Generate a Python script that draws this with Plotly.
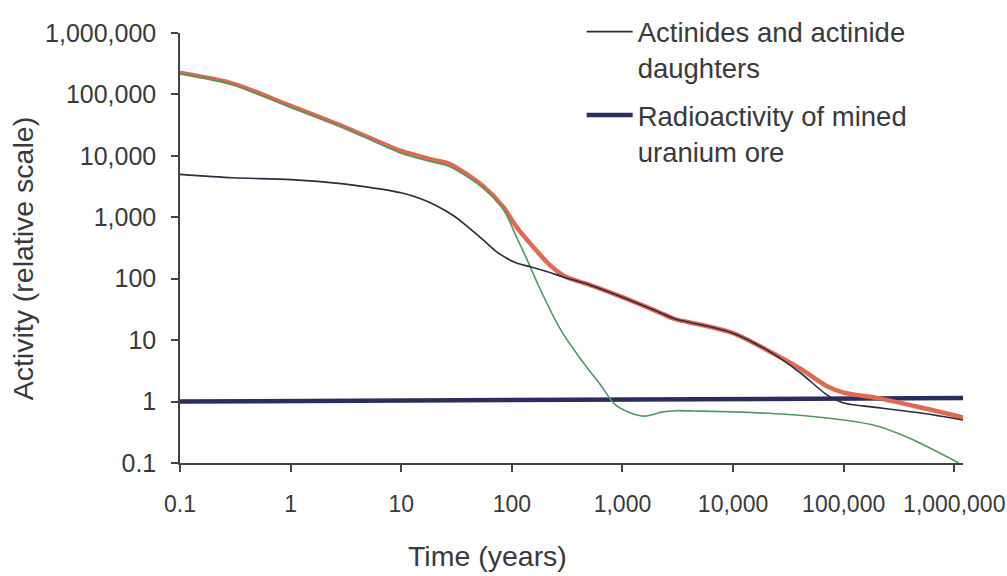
import plotly.graph_objects as go

# Time (years)
t_total = [0.1, 0.3, 1, 3, 10, 20, 27, 55, 83, 110, 156, 221, 300, 500, 1000, 2000, 3000, 5000,
           10000, 20000, 40000, 70000, 100000, 200000, 500000, 1200000]
total = [2.25e5, 1.5e5, 6.5e4, 3.0e4, 1.2e4, 8.5e3, 7.5e3, 3.2e3, 1.5e3, 700, 330, 166, 110, 80, 50,
         30, 22, 18, 13, 7, 3.5, 1.8, 1.4, 1.15, 0.8, 0.55]

t_fission = [0.1, 0.3, 1, 3, 10, 20, 27, 55, 83, 110, 140, 180, 275, 420, 630, 855, 1170, 1600,
             2300, 3000, 5000, 10000, 30000, 100000, 200000, 400000, 1100000]
fission = [2.2e5, 1.45e5, 6.2e4, 2.9e4, 1.1e4, 7.8e3, 6.8e3, 3.0e3, 1.4e3, 480, 190, 68, 15, 4.9,
           1.9, 0.9, 0.66, 0.58, 0.68, 0.71, 0.7, 0.68, 0.62, 0.5, 0.4, 0.25, 0.1]

t_actinide = [0.1, 0.3, 1, 3, 5, 10, 15, 20, 30, 40, 55, 70, 90, 110, 150, 221, 300, 500, 1000,
              2000, 3000, 5000, 10000, 20000, 40000, 70000, 100000, 150000, 500000, 1200000]
actinide = [5000, 4400, 4100, 3500, 3100, 2500, 2000, 1600, 1050, 700, 430, 290, 215, 180, 155, 126,
            105, 80, 50, 30, 22, 18, 13, 7, 3, 1.3, 0.95, 0.85, 0.65, 0.5]

t_ore = [0.1, 1200000]
ore = [1.0, 1.14]

x_ticks = [0.1, 1, 10, 100, 1000, 10000, 100000, 1000000]
x_labels = ["0.1", "1", "10", "100", "1,000", "10,000", "100,000", "1,000,000"]
y_ticks = [0.1, 1, 10, 100, 1000, 10000, 100000, 1000000]
y_labels = ["0.1", "1", "10", "100", "1,000", "10,000", "100,000", "1,000,000"]

FONT = "Liberation Sans, Arial, sans-serif"
TXT = "#3a3a3a"

fig = go.Figure()
fig.add_trace(go.Scatter(x=t_ore, y=ore, mode="lines", name="Radioactivity of mined<br>uranium ore",
                         line=dict(color="#2b2d5e", width=4.5), legendrank=2, legendgroup="ore"))
fig.add_trace(go.Scatter(x=t_total, y=total, mode="lines", showlegend=False,
                         line=dict(color="#e2694f", width=4.5, shape="spline", smoothing=0.8)))
fig.add_trace(go.Scatter(x=t_fission, y=fission, mode="lines", showlegend=False,
                         line=dict(color="#4f9a63", width=1.6, shape="spline", smoothing=0.8)))
fig.add_trace(go.Scatter(x=t_actinide, y=actinide, mode="lines", name="Actinides and actinide<br>daughters",
                         line=dict(color="#2c2c40", width=1.6, shape="spline", smoothing=0.8),
                         legendrank=1, legendgroup="act"))

fig.update_layout(
    width=1007, height=576,
    margin=dict(l=180, r=44, t=33, b=113, autoexpand=False),
    paper_bgcolor="white", plot_bgcolor="white",
    font=dict(family=FONT, color=TXT),
    legend=dict(x=0.513, y=1.06, xanchor="left", yanchor="top", valign="top",
                font=dict(size=27.5, family=FONT, color=TXT), itemwidth=46,
                tracegroupgap=9, bgcolor="rgba(0,0,0,0)"),
    showlegend=True,
    annotations=[
        dict(text="Time (years)", xref="paper", yref="paper", x=0.393, y=-0.216,
             xanchor="center", yanchor="middle", showarrow=False,
             font=dict(size=28.5, family=FONT, color=TXT)),
        dict(text="Activity (relative scale)", xref="paper", yref="paper", x=-0.201, y=0.475,
             xanchor="center", yanchor="middle", showarrow=False, textangle=-90,
             font=dict(size=28.5, family=FONT, color=TXT)),
    ],
)
fig.update_xaxes(type="log", range=[-1, 6.079], tickvals=x_ticks, ticktext=x_labels,
                 showgrid=False, zeroline=False, showline=True, linecolor="#444", linewidth=1.5,
                 ticks="outside", ticklen=7, tickcolor="#444", tickwidth=1.5,
                 tickfont=dict(size=23, family=FONT, color=TXT), ticklabelstandoff=13)
fig.update_yaxes(type="log", range=[-1, 6], tickvals=y_ticks, ticktext=y_labels,
                 showgrid=False, zeroline=False, showline=True, linecolor="#444", linewidth=1.5,
                 ticks="outside", ticklen=7, tickcolor="#444", tickwidth=1.5,
                 tickfont=dict(size=25, family=FONT, color=TXT), ticklabelstandoff=10)

fig.write_html("out.html")
